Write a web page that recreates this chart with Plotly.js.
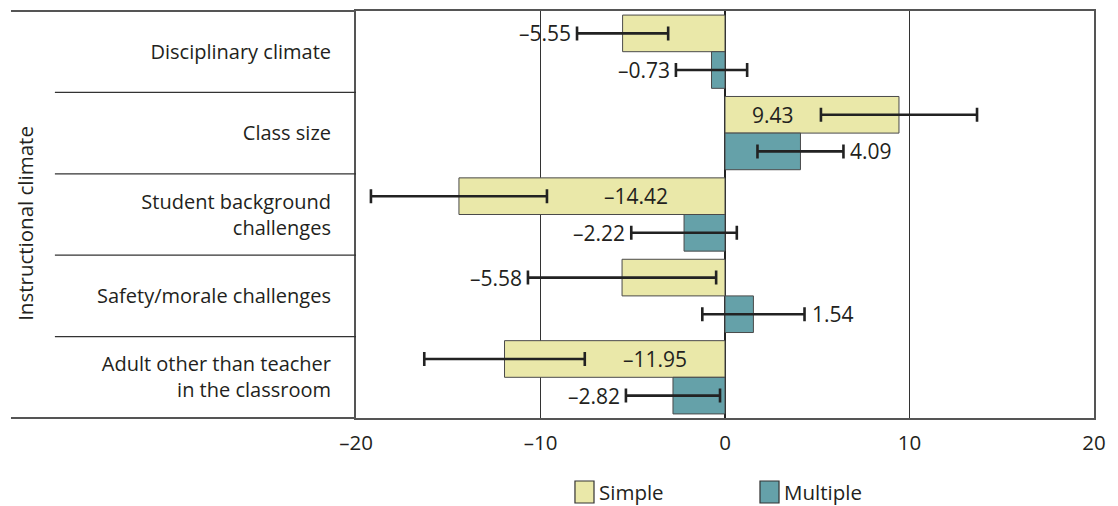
<!DOCTYPE html>
<html>
<head>
<meta charset="utf-8">
<script src="https://cdn.plot.ly/plotly-3.0.1.min.js"></script>
<style>html,body{margin:0;padding:0;background:#fff;} #chart{width:1118px;height:506px;}</style>
</head>
<body>
<div id="chart"></div>
<script>
// ---- data ----
var categories = ["Disciplinary climate", "Class size", "Student background<br>challenges", "Safety/morale challenges", "Adult other than teacher<br>in the classroom"];
var simpleValues = [-5.55, 9.43, -14.42, -5.58, -11.95];
var simpleErrors = [2.47, 4.23, 4.77, 5.10, 4.35];
var simpleLabelPlace = ["outside", "inside", "inside", "outside", "inside"];
var multipleValues = [-0.73, 4.09, -2.22, 1.54, -2.82];
var multipleErrors = [1.93, 2.33, 2.86, 2.77, 2.55];
var multipleLabelPlace = ["outside", "outside", "outside", "outside", "outside"];
var seriesNames = ["Simple", "Multiple"];
var xTickVals = [-20, -10, 0, 10, 20];
var xTickText = ["–20", "–10", "0", "10", "20"];
var yAxisTitle = "Instructional climate";

// ---- style ----
var FONT = "'Open Sans', sans-serif";
var TXT = "#231f20";
var colSimple = "#eae8a9";
var colMultiple = "#65a1a9";

function fmt(v){ return (v < 0 ? "–" : "") + Math.abs(v).toFixed(2); }

var idx = categories.map(function(_, i){ return i; });

var traces = [
  {type:"bar", orientation:"h", name:seriesNames[0], y:idx, x:simpleValues,
   marker:{color:colSimple, line:{color:"#4a4a4a", width:1}},
   error_x:{type:"data", array:simpleErrors, visible:true, color:"#222", thickness:2.6, width:7},
   hoverinfo:"x"},
  {type:"bar", orientation:"h", name:seriesNames[1], y:idx, x:multipleValues,
   marker:{color:colMultiple, line:{color:"#4a4a4a", width:1}},
   error_x:{type:"data", array:multipleErrors, visible:true, color:"#222", thickness:2.6, width:7},
   hoverinfo:"x"}
];

var annotations = [];
function addLabels(vals, errs, places, off){
  vals.forEach(function(v, i){
    var e = errs[i], a;
    if (places[i] === "inside") {
      var inner = v < 0 ? v + e : v - e;
      a = {x: inner/2, xanchor:"center", xshift:0};
    } else if (v < 0) {
      a = {x: v - e, xanchor:"right", xshift:-4};
    } else {
      a = {x: v + e, xanchor:"left", xshift:5};
    }
    a.y = i + off; a.yanchor = "middle"; a.xref = "x"; a.yref = "y";
    a.text = fmt(v); a.showarrow = false;
    a.font = {family:FONT, size:21, color:TXT};
    annotations.push(a);
  });
}
addLabels(simpleValues, simpleErrors, simpleLabelPlace, -0.225);
addLabels(multipleValues, multipleErrors, multipleLabelPlace, 0.225);

// y axis title
annotations.push({xref:"paper", yref:"paper", x:-0.4485, y:0.477, text:yAxisTitle, textangle:-90,
  showarrow:false, xanchor:"center", yanchor:"middle", font:{family:FONT, size:20.5, color:TXT}});

// legend (custom)
var legendItems = [
  {name:seriesNames[0], color:colSimple, x0:0.2967, x1:0.3225},
  {name:seriesNames[1], color:colMultiple, x0:0.5474, x1:0.5732}
];
var shapes = [];
legendItems.forEach(function(it){
  shapes.push({type:"rect", xref:"paper", yref:"paper", x0:it.x0, x1:it.x1, y0:-0.2088, y1:-0.1548,
    fillcolor:it.color, line:{color:"#333", width:1.2}});
  annotations.push({xref:"paper", yref:"paper", x:it.x1 + 0.004, y:-0.1818, xanchor:"left", yanchor:"middle",
    text:it.name, showarrow:false, font:{family:FONT, size:20.5, color:TXT}});
});

// frame lines extending into label area
var lineCol = "#555";
shapes.push({type:"line", xref:"paper", yref:"paper", x0:-0.4675, x1:0, y0:1, y1:1, line:{color:lineCol, width:2}});
shapes.push({type:"line", xref:"paper", yref:"paper", x0:-0.4675, x1:0, y0:0, y1:0, line:{color:lineCol, width:2}});
for (var k = 1; k < categories.length; k++) {
  shapes.push({type:"line", xref:"paper", yref:"y", x0:-0.408, x1:0, y0:k - 0.5, y1:k - 0.5, line:{color:"#333", width:1.3}});
}

var layout = {
  width:1118, height:506,
  margin:{l:356, r:24, t:11, b:88, pad:0},
  paper_bgcolor:"#fff", plot_bgcolor:"#fff",
  font:{family:FONT, color:TXT},
  showlegend:false,
  barmode:"group", bargap:0.1, bargroupgap:0,
  xaxis:{range:[-20, 20], tickvals:xTickVals, ticktext:xTickText, showgrid:true, gridcolor:"#333", gridwidth:1,
    zeroline:true, zerolinecolor:"#222", zerolinewidth:2.2,
    showline:true, linecolor:lineCol, linewidth:2, mirror:true,
    ticks:"outside", ticklen:5, tickcolor:"rgba(0,0,0,0)",
    tickfont:{family:FONT, size:20.5, color:TXT}, fixedrange:true},
  yaxis:{type:"linear", range:[4.5, -0.5], tickvals:idx, ticktext:categories, showgrid:false, zeroline:false,
    showline:true, linecolor:lineCol, linewidth:2, mirror:true,
    ticks:"outside", ticklen:19, tickcolor:"rgba(0,0,0,0)",
    tickfont:{family:FONT, size:20, color:TXT}, fixedrange:true},
  annotations:annotations,
  shapes:shapes
};

Plotly.newPlot("chart", traces, layout, {displayModeBar:false, staticPlot:true});
</script>
</body>
</html>
